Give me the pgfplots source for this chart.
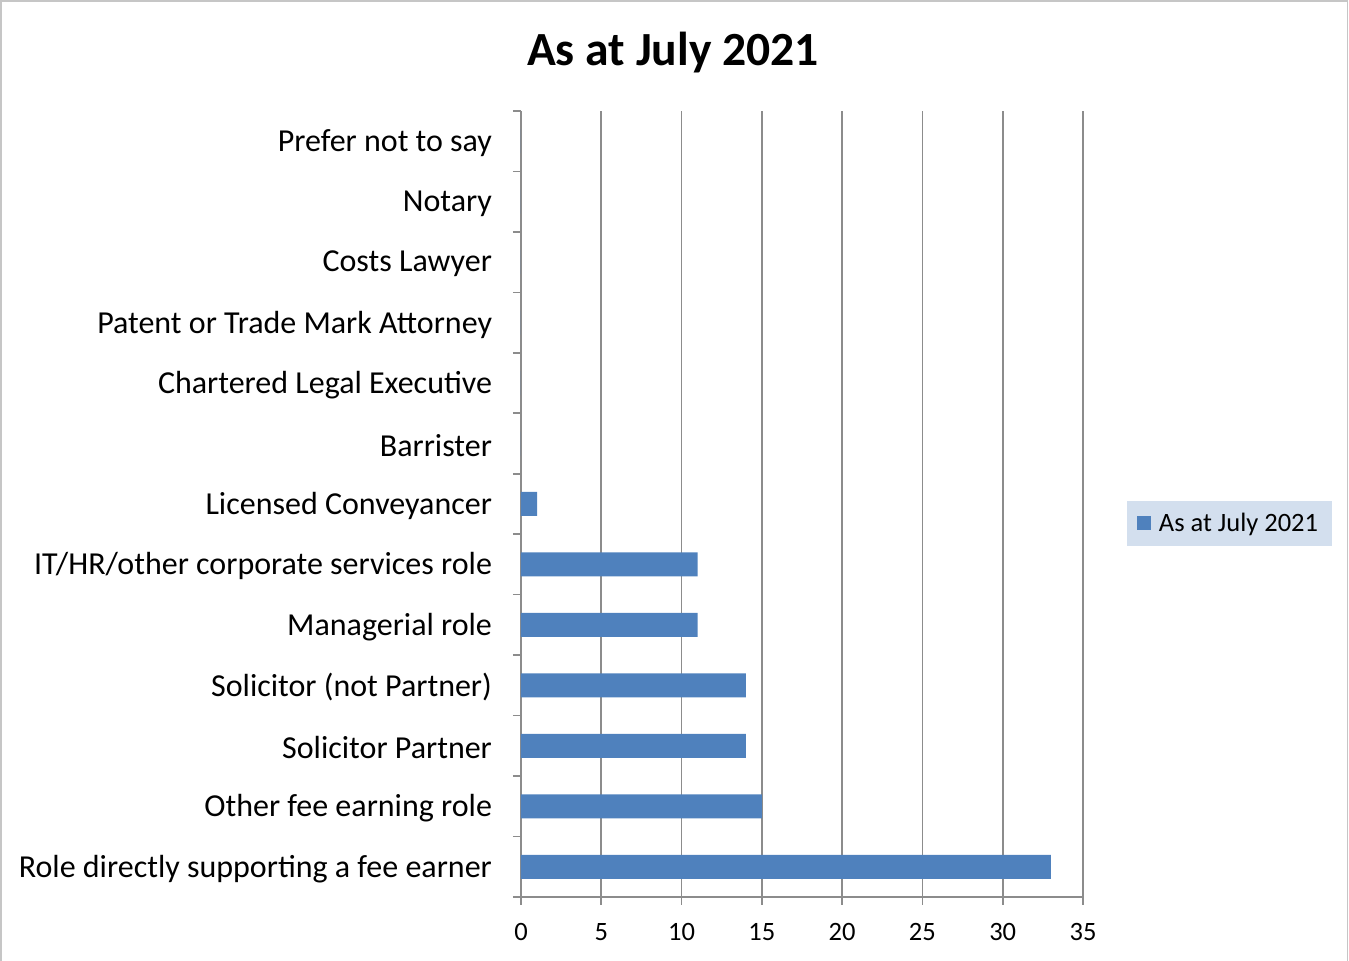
\documentclass[border=0pt]{standalone}
\usepackage{pgfplots}
\pgfplotsset{compat=1.18}
\usepackage{fontspec}
\setmainfont{Carlito}
\definecolor{barblue}{RGB}{79,129,189}
\definecolor{legbg}{RGB}{211,223,238}
\definecolor{gridgray}{RGB}{140,140,140}
\begin{document}
\begin{tikzpicture}
\useasboundingbox (-260.5pt,-32pt) rectangle (414pt,448.5pt);
\draw[gray!45, line width=0.8pt] (-260.1pt,-40pt) -- (-260.1pt,448.1pt) -- (413.2pt,448.1pt) -- (413.2pt,-40pt);
\node[font=\fontsize{23.8}{28}\selectfont\bfseries] at (76pt,422pt) {As at July 2021};
\begin{axis}[
    at={(0,0)}, anchor=south west,
    scale only axis,
    width=281pt, height=393pt,
    xbar, bar width=12pt,
    xmin=0, xmax=35,
    ymin=-0.5, ymax=12.5,
    xtick={0,5,...,35},
    ytick={0,...,12},
    minor ytick={-0.5,0.5,...,12.5},
    yticklabels={Role directly supporting a fee earner, Other fee earning role, Solicitor Partner, Solicitor (not Partner), Managerial role, IT/HR/other corporate services role, Licensed Conveyancer, Barrister, Chartered Legal Executive, Patent or Trade Mark Attorney, Costs Lawyer, Notary\ , Prefer not to say},
    axis lines=left,
    axis line style={-, gridgray, line width=0.8pt},
    tick align=outside,
    major tick length=4pt,
    minor tick length=4pt,
    major y tick style={draw=none},
    minor y tick style={gridgray, line width=0.8pt},
    major x tick style={gridgray, line width=0.8pt},
    xmajorgrids,
    major grid style={gridgray, line width=0.8pt},
    ticklabel style={font=\fontsize{13.25}{16}\selectfont},
    yticklabel style={font=\fontsize{16}{19}\selectfont, xshift=-7pt, yshift=-1pt},
    xticklabel style={yshift=-5.5pt},
    /pgf/number format/assume math mode=true,
    legend style={at={(1.2607,0.4752)}, anchor=center, fill=legbg, draw=none,
        font=\fontsize{13.25}{16}\selectfont, inner xsep=5pt, inner ysep=4pt},
    legend image code/.code={\fill[#1] (0pt,-3.5pt) rectangle (7pt,3.5pt); \path (9pt,0pt);},
    clip=false,
]
\addplot[fill=barblue, draw=none] coordinates {
    (33,0) (15,1) (14,2) (14,3) (11,4) (11,5) (1,6)
    (0,7) (0,8) (0,9) (0,10) (0,11) (0,12)
};
\legend{As at July 2021}
\end{axis}
\end{tikzpicture}
\end{document}
